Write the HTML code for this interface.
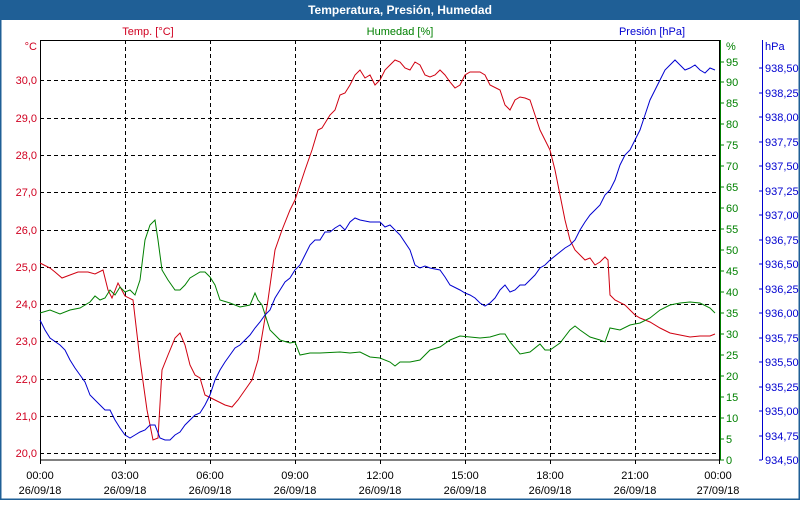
<!DOCTYPE html>
<html><head><meta charset="utf-8"><style>
body{margin:0;width:800px;height:500px;overflow:hidden;background:#fff;font-family:"Liberation Sans",Tahoma,sans-serif}
</style></head><body>
<svg width="800" height="500" xmlns="http://www.w3.org/2000/svg" font-family="Liberation Sans, sans-serif" font-size="11">
<rect x="0" y="0" width="800" height="500" fill="#fff" stroke="#1f5f96" stroke-width="3"/>
<rect x="0" y="0" width="800" height="20" fill="#1f5f96"/>
<text x="400" y="14" text-anchor="middle" fill="#fff" font-weight="bold" font-size="12">Temperatura, Presión, Humedad</text>
<text x="148" y="35" text-anchor="middle" fill="#d00020">Temp. [°C]</text>
<text x="400" y="35" text-anchor="middle" fill="#008000">Humedad [%]</text>
<text x="652" y="35" text-anchor="middle" fill="#0000d0">Presión [hPa]</text>
<text x="37" y="50" text-anchor="end" fill="#d00020">°C</text>
<text x="726" y="50" fill="#008000">%</text>
<text x="765" y="50" fill="#0000d0">hPa</text>
<g stroke="#000" stroke-dasharray="4,3" stroke-width="1">
<line x1="125.5" y1="40" x2="125.5" y2="460"/><line x1="210.5" y1="40" x2="210.5" y2="460"/><line x1="295.5" y1="40" x2="295.5" y2="460"/><line x1="380.5" y1="40" x2="380.5" y2="460"/><line x1="465.5" y1="40" x2="465.5" y2="460"/><line x1="550.5" y1="40" x2="550.5" y2="460"/><line x1="635.5" y1="40" x2="635.5" y2="460"/>
<line x1="40" y1="80.5" x2="720" y2="80.5"/><line x1="40" y1="118.5" x2="720" y2="118.5"/><line x1="40" y1="155.5" x2="720" y2="155.5"/><line x1="40" y1="192.5" x2="720" y2="192.5"/><line x1="40" y1="230.5" x2="720" y2="230.5"/><line x1="40" y1="267.5" x2="720" y2="267.5"/><line x1="40" y1="304.5" x2="720" y2="304.5"/><line x1="40" y1="341.5" x2="720" y2="341.5"/><line x1="40" y1="379.5" x2="720" y2="379.5"/><line x1="40" y1="416.5" x2="720" y2="416.5"/><line x1="40" y1="453.5" x2="720" y2="453.5"/>
</g>
<rect x="40.5" y="40.5" width="679" height="419.5" fill="none" stroke="#000"/>
<line x1="720.5" y1="40" x2="720.5" y2="460" stroke="#008000"/>
<line x1="762.5" y1="40" x2="762.5" y2="460" stroke="#0000d0"/>
<g fill="#d00020" text-anchor="end">
<text x="37" y="84">30,0</text><text x="37" y="122">29,0</text><text x="37" y="159">28,0</text><text x="37" y="196">27,0</text><text x="37" y="234">26,0</text><text x="37" y="271">25,0</text><text x="37" y="308">24,0</text><text x="37" y="345">23,0</text><text x="37" y="383">22,0</text><text x="37" y="420">21,0</text><text x="37" y="457">20,0</text>
</g>
<g fill="#008000">
<text x="726" y="464">0</text><text x="726" y="443">5</text><text x="726" y="422">10</text><text x="726" y="401">15</text><text x="726" y="380">20</text><text x="726" y="359">25</text><text x="726" y="338">30</text><text x="726" y="317">35</text><text x="726" y="296">40</text><text x="726" y="275">45</text><text x="726" y="254">50</text><text x="726" y="233">55</text><text x="726" y="212">60</text><text x="726" y="191">65</text><text x="726" y="170">70</text><text x="726" y="149">75</text><text x="726" y="128">80</text><text x="726" y="107">85</text><text x="726" y="86">90</text><text x="726" y="66">95</text>
</g>
<g stroke="#008000"><path d="M720 460h4M720 439h4M720 418h4M720 397h4M720 376h4M720 355h4M720 334h4M720 313h4M720 292h4M720 271h4M720 250h4M720 229h4M720 208h4M720 187h4M720 166h4M720 145h4M720 124h4M720 103h4M720 82h4M720 62h4"/></g>
<g fill="#0000d0">
<text x="765" y="464">934,50</text><text x="765" y="440">934,75</text><text x="765" y="415">935,00</text><text x="765" y="391">935,25</text><text x="765" y="366">935,50</text><text x="765" y="342">935,75</text><text x="765" y="317">936,00</text><text x="765" y="293">936,25</text><text x="765" y="268">936,50</text><text x="765" y="244">936,75</text><text x="765" y="219">937,00</text><text x="765" y="195">937,25</text><text x="765" y="170">937,50</text><text x="765" y="146">937,75</text><text x="765" y="121">938,00</text><text x="765" y="97">938,25</text><text x="765" y="72">938,50</text>
</g>
<g stroke="#0000d0"><path d="M762 460h-3M762 436h-3M762 411h-3M762 387h-3M762 362h-3M762 338h-3M762 313h-3M762 289h-3M762 264h-3M762 240h-3M762 215h-3M762 191h-3M762 166h-3M762 142h-3M762 117h-3M762 93h-3M762 68h-3"/></g>
<g stroke="#000"><path d="M40.5 460v4M125.5 460v4M210.5 460v4M295.5 460v4M380.5 460v4M465.5 460v4M550.5 460v4M635.5 460v4M719.5 460v4"/></g>
<g fill="#000" text-anchor="middle">
<text x="40" y="479">00:00</text><text x="40" y="494">26/09/18</text>
<text x="125" y="479">03:00</text><text x="125" y="494">26/09/18</text>
<text x="210" y="479">06:00</text><text x="210" y="494">26/09/18</text>
<text x="295" y="479">09:00</text><text x="295" y="494">26/09/18</text>
<text x="380" y="479">12:00</text><text x="380" y="494">26/09/18</text>
<text x="465" y="479">15:00</text><text x="465" y="494">26/09/18</text>
<text x="550" y="479">18:00</text><text x="550" y="494">26/09/18</text>
<text x="635" y="479">21:00</text><text x="635" y="494">26/09/18</text>
<text x="718" y="479">00:00</text><text x="718" y="494">27/09/18</text>
</g>
<g fill="none" stroke-width="1">
<polyline stroke="#d00010" points="40,263 50,268 55,272 62,278 70,275 78,272 88,272 95,274 103,270 108,290 112,298 118,283 125,296 133,300 140,360 147,410 153,440 158,438 162,370 168,355 175,338 180,333 185,345 190,365 195,375 200,378 205,395 215,400 225,405 232,407 238,400 245,390 252,380 258,360 263,330 268,300 275,250 282,230 290,210 295,200 300,185 305,170 312,150 318,130 322,128 330,115 335,110 340,95 345,93 350,85 355,75 360,70 365,78 370,75 375,85 380,80 385,70 390,65 395,60 400,62 405,68 410,70 415,62 420,65 425,75 430,77 435,75 440,70 445,75 450,82 455,88 460,85 465,75 470,72 480,72 485,75 490,85 500,90 505,105 510,110 515,100 520,97 525,98 530,100 535,115 540,130 545,140 550,150 555,170 560,195 565,220 570,240 575,250 580,255 585,260 590,258 595,265 600,262 605,257 608,260 610,295 615,300 625,305 630,310 635,315 640,318 650,322 660,328 670,333 680,335 690,337 700,336 710,336 715,334"/>
<polyline stroke="#008000" points="40,313 50,310 60,314 70,310 80,308 90,302 95,296 100,300 105,298 110,290 115,295 120,287 125,292 130,290 135,295 140,280 145,240 150,225 155,220 158,240 162,270 168,280 175,290 180,290 185,285 190,278 200,272 205,272 210,277 215,285 220,300 230,303 240,307 250,305 255,293 258,300 262,305 270,330 280,340 290,343 295,342 300,355 310,353 320,353 340,352 350,353 360,352 370,357 380,358 390,362 395,366 400,362 410,362 420,360 430,350 440,347 450,340 460,336 470,337 480,338 490,337 500,334 505,334 510,342 520,354 530,352 540,344 545,350 550,350 560,343 570,330 575,326 580,330 590,337 600,340 605,342 610,328 620,330 630,325 640,323 650,318 660,310 670,305 680,303 690,302 700,303 710,308 715,313"/>
<polyline stroke="#0000d0" points="40,320 45,330 50,338 60,345 65,350 70,360 75,368 80,375 85,382 90,395 95,400 100,405 105,410 110,410 115,420 120,428 125,435 130,438 135,435 140,432 145,430 150,425 155,425 160,438 165,440 170,440 175,435 180,432 185,425 190,420 195,415 200,413 205,405 210,395 215,380 220,370 225,362 230,355 235,348 240,345 245,340 250,335 255,328 260,322 265,315 270,310 275,298 280,290 285,282 290,278 295,270 300,265 305,255 310,245 315,240 320,240 325,232 330,232 335,228 340,225 345,230 350,222 355,218 360,220 370,222 380,222 385,227 390,225 395,230 400,235 410,250 415,265 420,268 425,266 430,268 440,270 445,277 450,285 460,290 465,293 470,295 475,298 480,303 485,306 490,303 495,298 500,290 505,285 510,292 515,290 520,285 525,285 530,280 535,275 540,268 545,265 550,260 560,252 565,248 570,245 575,240 580,230 585,222 590,215 595,210 600,205 605,195 610,190 615,180 620,165 625,155 630,150 635,140 640,130 645,115 650,100 655,90 660,80 665,70 670,65 675,60 680,65 685,70 690,68 695,65 700,70 705,73 710,68 715,70"/>
</g>
</svg>
</body></html>
